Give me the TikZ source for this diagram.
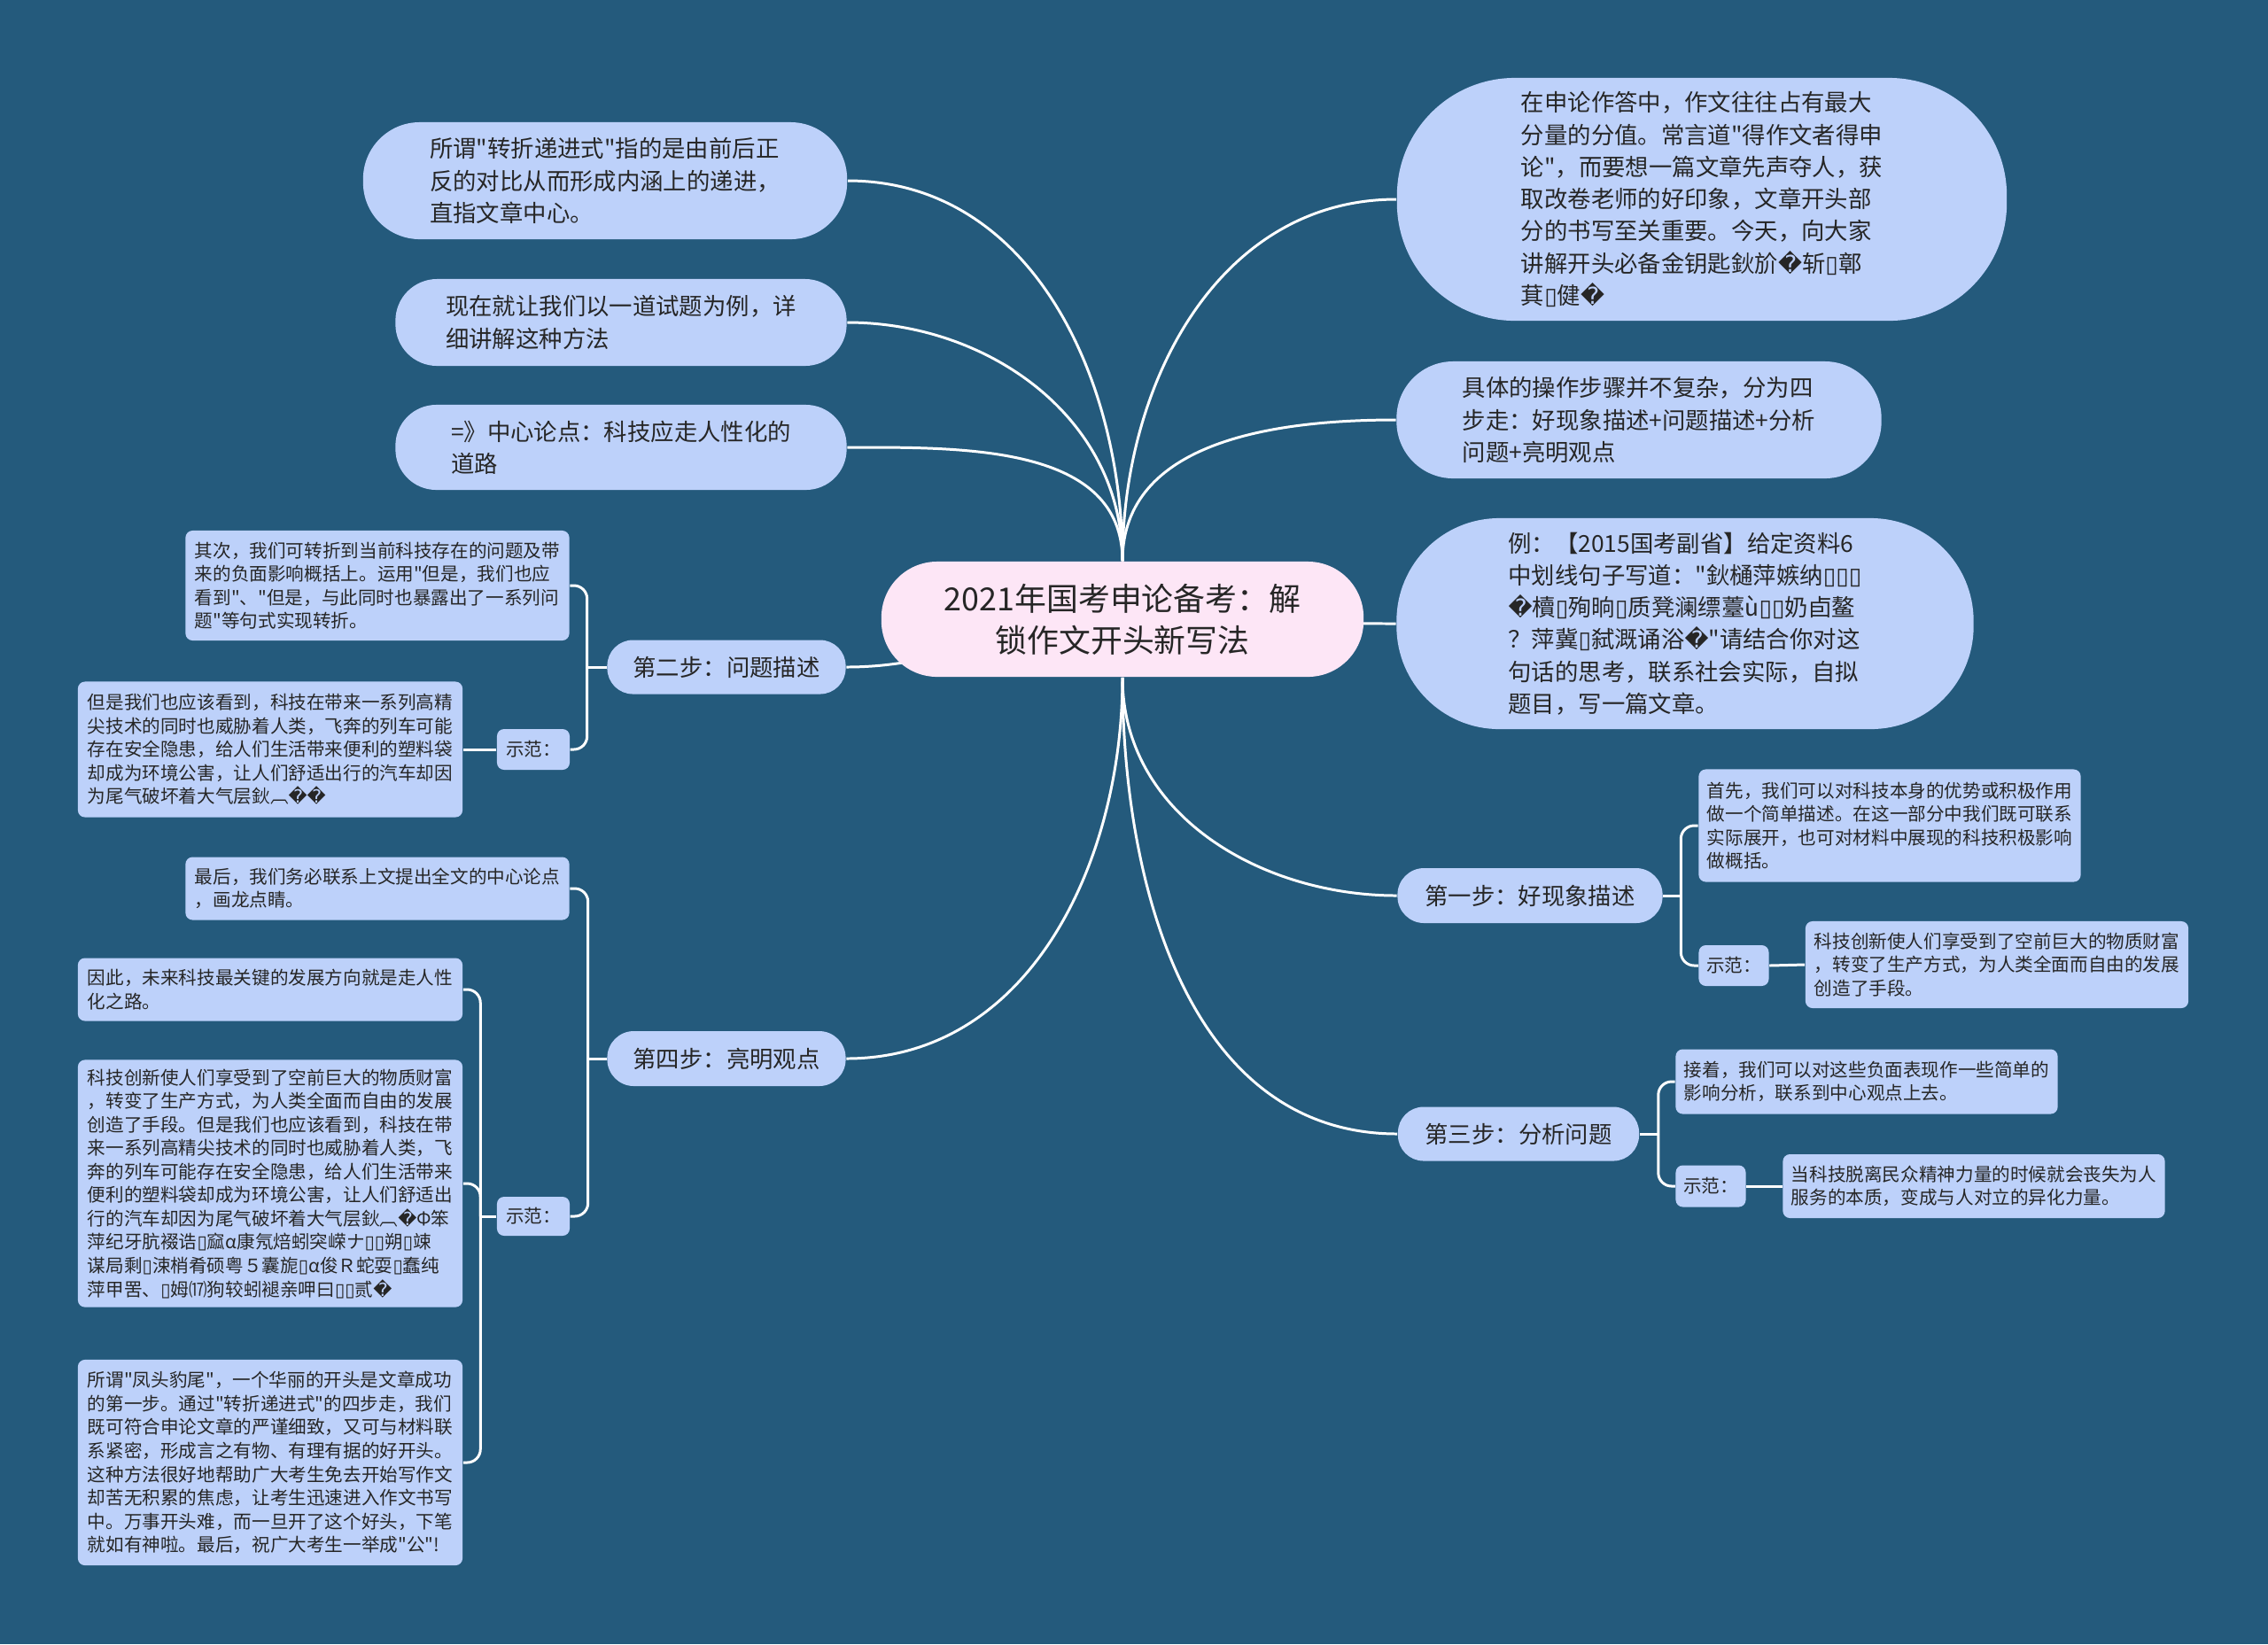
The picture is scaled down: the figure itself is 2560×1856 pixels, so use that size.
\documentclass[tikz,border=0pt]{standalone}
\usepackage{fontspec}
\newfontfamily\cjkfont{Noto Sans CJK SC}
\newfontfamily\symfont{DejaVu Sans}
\usetikzlibrary{positioning}
\definecolor{bgblue}{HTML}{245A7C}
\definecolor{topicblue}{HTML}{BDD1FA}
\definecolor{rootpink}{HTML}{FDE6F6}
\definecolor{ink}{HTML}{262626}
\newcommand\tofu{{\symfont ▯}}
\newcommand\repl{{\symfont\char"FFFD}}
\newcommand\rootfont{\cjkfont\fontsize{10.2pt}{13.4pt}\selectfont}
\newcommand\topicfont{\cjkfont\fontsize{7.5pt}{10.3pt}\selectfont}
\newcommand\leaffont{\cjkfont\fontsize{5.86pt}{7.55pt}\selectfont}
\pgfdeclarelayer{background}
\pgfsetlayers{background,main}

\begin{document}
\begin{tikzpicture}[
  x=0.01cm, y=-0.01cm,
  link/.style={draw=white, line width=0.85pt},
  bracket/.style={link, rounded corners=0.15cm},
  centre/.style={fill=rootpink, text=ink, font=\rootfont, align=center, inner sep=0pt, minimum width=5.44cm, minimum height=1.30cm, rounded corners=0.63cm},
  topic/.style={fill=topicblue, text=ink, font=\topicfont, align=left, inner sep=0pt, rounded corners=#1},
  leaf/.style={fill=topicblue, text=ink, font=\leaffont, align=left, inner sep=0pt, rounded corners=0.08cm}
]
\begin{pgfonlayer}{background}
\fill[bgblue] (0,0) rectangle (2560,1856);
\end{pgfonlayer}

\node[centre] (root) at (1267,699) {2021年国考申论备考：解\\锁作文开头新写法};

% left side
\node[topic=0.64cm, minimum width=5.46cm, minimum height=1.32cm] (L1) at (683,204) {所谓"转折递进式"指的是由前后正\\反的对比从而形成内涵上的递进，\\直指文章中心。};
\node[topic=0.47cm, minimum width=5.09cm, minimum height=0.98cm] (L2) at (701,364) {现在就让我们以一道试题为例，详\\细讲解这种方法};
\node[topic=0.46cm, minimum width=5.09cm, minimum height=0.96cm] (L3) at (701,505) {=》中心论点：科技应走人性化的\\道路};

\node[topic=0.29cm, minimum width=2.69cm, minimum height=0.61cm, align=center] (S2) at (820,753) {第二步：问题描述};
\node[leaf, minimum width=4.33cm, minimum height=1.24cm] (S2a) at (426,661) {其次，我们可转折到当前科技存在的问题及带\\来的负面影响概括上。运用"但是，我们也应\\看到"、"但是，与此同时也暴露出了一系列问\\题"等句式实现转折。};
\node[leaf, minimum width=0.82cm, minimum height=0.46cm] (S2d) at (602,846) {示范：};
\node[leaf, minimum width=4.34cm, minimum height=1.53cm] (S2e) at (305,846) {但是我们也应该看到，科技在带来一系列高精\\尖技术的同时也威胁着人类，飞奔的列车可能\\存在安全隐患，给人们生活带来便利的塑料袋\\却成为环境公害，让人们舒适出行的汽车却因\\为尾气破坏着大气层鈥︹\repl\repl};

\node[topic=0.30cm, minimum width=2.69cm, minimum height=0.62cm, align=center] (S4) at (820,1195) {第四步：亮明观点};
\node[leaf, minimum width=4.33cm, minimum height=0.71cm] (S4a) at (426,1003) {最后，我们务必联系上文提出全文的中心论点\\，画龙点睛。};
\node[leaf, minimum width=0.82cm, minimum height=0.44cm] (S4d) at (602,1373) {示范：};
\node[leaf, minimum width=4.34cm, minimum height=0.71cm] (S4b) at (305,1117) {因此，未来科技最关键的发展方向就是走人性\\化之路。};
\node[leaf, minimum width=4.34cm, minimum height=2.79cm] (S4c) at (305,1336) {科技创新使人们享受到了空前巨大的物质财富\\，转变了生产方式，为人类全面而自由的发展\\创造了手段。但是我们也应该看到，科技在带\\来一系列高精尖技术的同时也威胁着人类，飞\\奔的列车可能存在安全隐患，给人们生活带来\\便利的塑料袋却成为环境公害，让人们舒适出\\行的汽车却因为尾气破坏着大气层鈥︹\repl Φ笨\\萍纪牙肮裰诰\tofu{}窳α康氖焙蚓突嵘ナ\tofu\tofu{}朔\tofu{}竦\\谋局剩\tofu{}涑梢肴硕粤５囊旎\tofu{}α俊Ｒ蛇耍\tofu{}蠢纯\\萍甲罟、\tofu{}姆⒄狗较蚓褪亲呷曰\tofu\tofu{}贰\repl};
\node[leaf, minimum width=4.34cm, minimum height=2.32cm] (S4e) at (305,1651) {所谓"凤头豹尾"，一个华丽的开头是文章成功\\的第一步。通过"转折递进式"的四步走，我们\\既可符合申论文章的严谨细致，又可与材料联\\系紧密，形成言之有物、有理有据的好开头。\\这种方法很好地帮助广大考生免去开始写作文\\却苦无积累的焦虑，让考生迅速进入作文书写\\中。万事开头难，而一旦开了这个好头，下笔\\就如有神啦。最后，祝广大考生一举成"公"!};

% right side
\node[topic=1.33cm, minimum width=6.88cm, minimum height=2.74cm] (R1) at (1921,225) {在申论作答中，作文往往占有最大\\分量的分值。常言道"得作文者得申\\论"，而要想一篇文章先声夺人，获\\取改卷老师的好印象，文章开头部\\分的书写至关重要。今天，向大家\\讲解开头必备金钥匙鈥斺\repl 斩\tofu{}鄣\\萁\tofu{}健\repl};
\node[topic=0.64cm, minimum width=5.47cm, minimum height=1.32cm] (R2) at (1850,474) {具体的操作步骤并不复杂，分为四\\步走：好现象描述+问题描述+分析\\问题+亮明观点};
\node[topic=1.16cm, minimum width=6.51cm, minimum height=2.38cm] (R3) at (1902,704) {例：【2015国考副省】给定资料6\\中划线句子写道："鈥樋萍嫉纳\tofu\tofu\tofu\\\repl 櫝\tofu{}殉晌\tofu{}质凳澜缥薹ù\tofu\tofu{}奶卣鳌\\？萍冀\tofu{}弑溉诵浴\repl"请结合你对这\\句话的思考，联系社会实际，自拟\\题目，写一篇文章。};

\node[topic=0.30cm, minimum width=2.99cm, minimum height=0.62cm, align=center] (S1) at (1727,1011) {第一步：好现象描述};
\node[leaf, minimum width=4.31cm, minimum height=1.27cm] (S1a) at (2133,932) {首先，我们可以对科技本身的优势或积极作用\\做一个简单描述。在这一部分中我们既可联系\\实际展开，也可对材料中展现的科技积极影响\\做概括。};
\node[leaf, minimum width=0.79cm, minimum height=0.46cm] (S1d) at (1957,1090) {示范：};
\node[leaf, minimum width=4.32cm, minimum height=0.98cm] (S1e) at (2254,1089) {科技创新使人们享受到了空前巨大的物质财富\\，转变了生产方式，为人类全面而自由的发展\\创造了手段。};

\node[topic=0.29cm, minimum width=2.72cm, minimum height=0.61cm, align=center] (S3) at (1714,1280) {第三步：分析问题};
\node[leaf, minimum width=4.31cm, minimum height=0.73cm] (S3a) at (2107,1221) {接着，我们可以对这些负面表现作一些简单的\\影响分析，联系到中心观点上去。};
\node[leaf, minimum width=0.79cm, minimum height=0.47cm] (S3d) at (1931,1339) {示范：};
\node[leaf, minimum width=4.31cm, minimum height=0.72cm] (S3e) at (2228,1339) {当科技脱离民众精神力量的时候就会丧失为人\\服务的本质，变成与人对立的异化力量。};

% branches from the centre
\begin{pgfonlayer}{background}
\draw[link] (root.north) to[out=90,in=0] (L1.east);
\draw[link] (root.north) to[out=90,in=0] (L2.east);
\draw[link] (root.north) to[out=90,in=0] (L3.east);
\draw[link] (root.center) to[out=180,in=0] (S2.east);
\draw[link] (root.south) to[out=270,in=0] (S4.east);
\draw[link] (root.north) to[out=90,in=180] (R1.west);
\draw[link] (root.north) to[out=90,in=180] (R2.west);
\draw[link] (root.center) to[out=0,in=180] (R3.west);
\draw[link] (root.south) to[out=270,in=180] (S1.west);
\draw[link] (root.south) to[out=270,in=180] (S3.west);
\end{pgfonlayer}

% sub-branches
\draw[link] (S2.west) -- ++(-22,0) coordinate (j2);
\draw[bracket] (j2) |- (S2a.east);
\draw[bracket] (j2) |- (S2d.east);
\draw[link] (S2d.west) -- (S2e.east);

\draw[link] (S4.west) -- ++(-21,0) coordinate (j4);
\draw[bracket] (j4) |- (S4a.east);
\draw[bracket] (j4) |- (S4d.east);
\draw[link] (S4d.west) -- ++(-18,0) coordinate (j4d);
\draw[bracket] (j4d) |- (S4b.east);
\draw[bracket] (j4d) |- (S4c.east);
\draw[bracket] (j4d) |- (S4e.east);

\draw[link] (S1.east) -- ++(20,0) coordinate (j1);
\draw[bracket] (j1) |- (S1a.west);
\draw[bracket] (j1) |- (S1d.west);
\draw[link] (S1d.east) -- (S1e.west);

\draw[link] (S3.east) -- ++(21,0) coordinate (j3);
\draw[bracket] (j3) |- (S3a.west);
\draw[bracket] (j3) |- (S3d.west);
\draw[link] (S3d.east) -- (S3e.west);
\end{tikzpicture}
\end{document}
